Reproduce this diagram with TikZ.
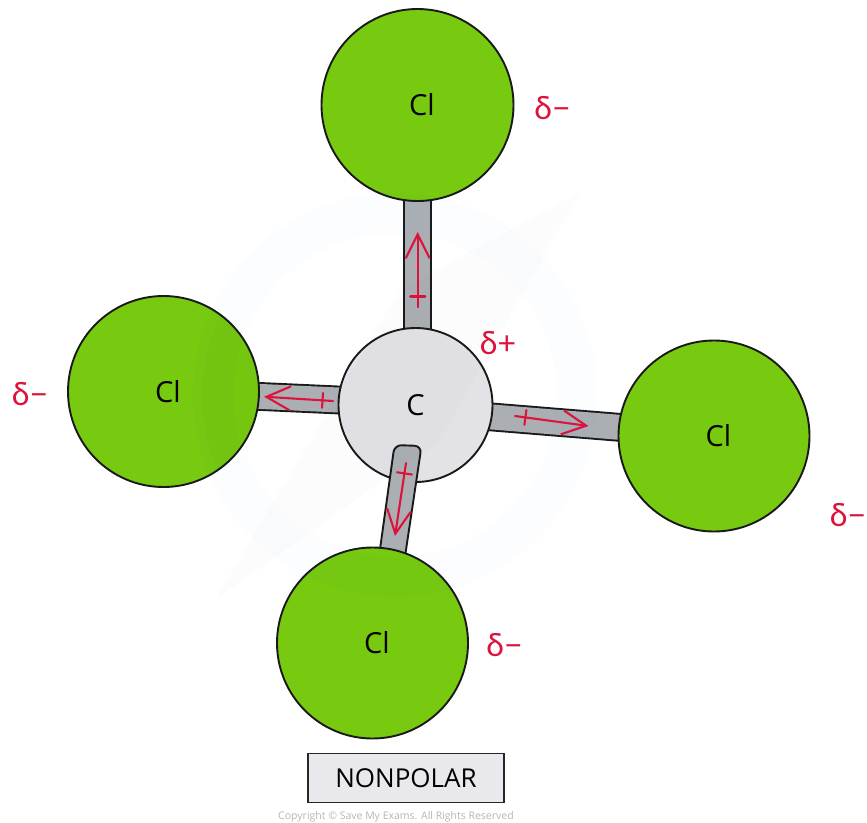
\documentclass[tikz,border=0pt]{standalone}
\usepackage{fontspec}
\setmainfont{Open Sans}
\newfontfamily\lblfont{Lato}
\usetikzlibrary{arrows.meta,calc,backgrounds}
\definecolor{clgreen}{HTML}{77CA0F}
\definecolor{bondgrey}{HTML}{ABAFB3}
\definecolor{cgrey}{HTML}{E3E2E6}
\definecolor{boxgrey}{HTML}{E9E8EC}
\definecolor{dipred}{HTML}{DC143C}
\definecolor{copygrey}{HTML}{B4B4B4}
\pgfdeclarelayer{bonds}
\pgfdeclarelayer{cnode}
\pgfdeclarelayer{bondmid}
\pgfsetlayers{bonds,cnode,bondmid,main}
\tikzset{
  atomline/.style={draw=black!90,line width=1.9pt},
  clatom/.style={atomline,fill=clgreen,circle,inner sep=0pt,minimum size=#1,font=\fontsize{29}{29}\selectfont},
  catom/.style={atomline,fill=cgrey,circle,inner sep=0pt,minimum size=154pt,font=\fontsize{29}{29}\selectfont},
  bondline/.style={draw=black!90,line width=1.9pt,double=bondgrey,double distance=25pt},
  bondshape/.style={draw=black!90,line width=1.9pt,rounded corners=7pt},
  dipole/.style={draw=dipred,line width=2.1pt,line cap=round},
  dipolehead/.style={dipole,-{Straight Barb[length=24pt,width=24pt,line width=2.1pt]}},
  charge/.style={text=dipred,font=\lblfont\fontsize{32}{32}\selectfont,inner sep=0pt},
}
\newcommand{\dipolearrow}[2]{%
  \draw[dipolehead] (#1) -- (#2);
  \draw[dipole] ($(#1)!10.5pt!(#2)!7.5pt!90:(#2)$) -- ($(#1)!10.5pt!(#2)!7.5pt!-90:(#2)$);
}
\newcommand{\cltext}{\hspace{9pt}\raisebox{-2pt}{Cl}}
\begin{document}
\begin{tikzpicture}[x=1pt,y=-1pt]
\useasboundingbox (0,0) rectangle (867,822);
% atoms
\node[clatom=192pt] (cltop) at (417.5,105) {\cltext};
\node[clatom=191pt] (clleft) at (163.5,391.5) {\cltext};
\node[clatom=191pt] (clright) at (714,436) {\cltext};
\node[clatom=191pt] (clbot) at (372.5,643) {\cltext};
\begin{pgfonlayer}{cnode}
\node[catom] (c) at (415.5,405) {C};
\end{pgfonlayer}
% bond ends
\coordinate (tb1) at (417.5,190);
\coordinate (tb2) at (417.5,345);
\coordinate (lb1) at (250,396);
\coordinate (lb2) at (350,400.5);
\coordinate (rb1) at (480,416);
\coordinate (rb2) at (640,429);
\coordinate (bb1) at (394.5,445);
\coordinate (bb2) at (421.5,446);
\coordinate (bb3) at (404.5,560);
\coordinate (bb4) at (378.5,560);
\begin{pgfonlayer}{bonds}
\draw[bondline] (tb1) -- (tb2);
\draw[bondline] (lb1) -- (lb2);
\draw[bondline] (rb1) -- (rb2);
\end{pgfonlayer}
\begin{pgfonlayer}{bondmid}
\fill[bondgrey,rounded corners=7pt] (bb4) -- (bb1) -- (bb2) -- (bb3) -- cycle;
\draw[bondshape] (bb4) -- (bb1) -- (bb2) -- (bb3);
\end{pgfonlayer}
% dipole arrows
\coordinate (ta) at (417.7,307);
\coordinate (th) at (417.7,232);
\coordinate (ra) at (515,416);
\coordinate (rh) at (588.5,426);
\coordinate (la) at (333,401);
\coordinate (lh) at (264,396.7);
\coordinate (ba) at (406,463);
\coordinate (bh) at (395,536);
\dipolearrow{ta}{th}
\dipolearrow{ra}{rh}
\dipolearrow{la}{lh}
\dipolearrow{ba}{bh}
% charges
\node[charge] (q1) at (552.5,108) {δ−};
\node[charge] (q2) at (30,394) {δ−};
\node[charge] (q3) at (848,515) {δ−};
\node[charge] (q4) at (504.5,645) {δ−};
\node[charge] (q5) at (498,343) {δ+};
% label
\node[draw=black!85,line width=1.6pt,fill=boxgrey,minimum width=196pt,minimum height=49pt,inner sep=0pt,font=\fontsize{26}{26}\selectfont] (lab) at (406,778) {NONPOLAR};
\node[text=copygrey,font=\fontsize{10.5}{11}\selectfont,inner sep=0pt] (copy) at (396,816.5) {Copyright © Save My Exams. All Rights Reserved};
% watermark
\begin{scope}[opacity=0.016]
\draw[line width=40pt,draw=cyan!60!blue] (395,395) circle (182);
\fill[black!70] (580,192) -- (400,290) -- (215,600) -- (440,440) -- cycle;
\end{scope}
\begin{scope}
\clip (163.5,391.5) circle (95);
\draw[line width=55pt,draw=black,opacity=0.02] (395,395) circle (165);
\end{scope}
\end{tikzpicture}
\end{document}
